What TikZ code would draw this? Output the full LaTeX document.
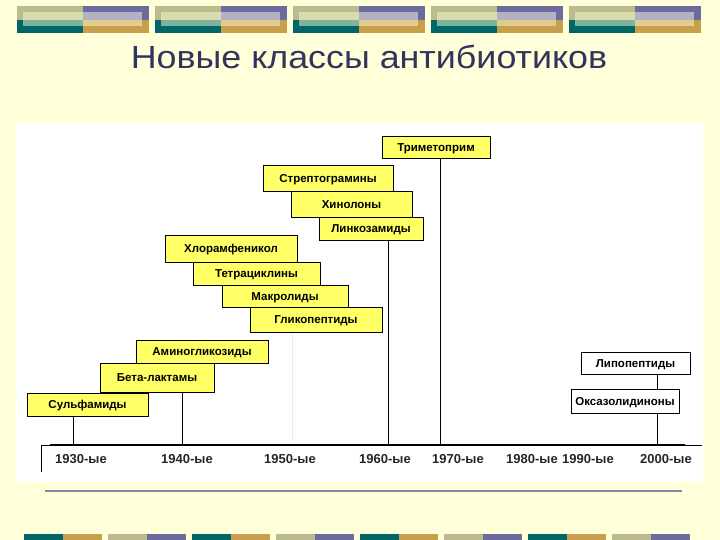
\documentclass[tikz,border=0pt]{standalone}
\usepackage{fontspec}
\setmainfont{Liberation Sans}
\usetikzlibrary{positioning}

\definecolor{slidebg}{HTML}{FFFFD9}
\definecolor{boxyellow}{HTML}{FFFF66}
\definecolor{titleblue}{HTML}{33335F}
\definecolor{bandkhaki}{HTML}{BBBB8D}
\definecolor{bandteal}{HTML}{006666}
\definecolor{bandpurple}{HTML}{6B6B9E}
\definecolor{bandgold}{HTML}{C8A04C}
\definecolor{lightkhaki}{HTML}{DADCB0}
\definecolor{lightteal}{HTML}{80B39E}
\definecolor{lightpurple}{HTML}{B2B2C4}
\definecolor{lightgold}{HTML}{E0CC8C}
\definecolor{rulegray}{HTML}{8585A8}

\begin{document}
\begin{tikzpicture}[x=1pt, y=-1pt,
    classbox/.style={draw=black, line width=0.6pt, fill=boxyellow, inner sep=0pt,
      text height=8.2pt, text depth=0pt,
      font=\fontsize{11.5}{12}\selectfont\bfseries},
    newbox/.style={classbox, fill=white},
    yearlabel/.style={font=\fontsize{13}{14}\selectfont\bfseries, text=black!85},
    tickline/.style={line width=0.6pt},
  ]
  \useasboundingbox (0,0) rectangle (720,540);
  \fill[slidebg] (0,0) rectangle (720,540);

  % top band: five two-tone blocks with a lighter inset
  \foreach \bx in {17,155,293,431,569} {
    \fill[bandkhaki]   (\bx,6)     rectangle ++(66,14);
    \fill[bandteal]    (\bx,20)    rectangle ++(66,13);
    \fill[bandpurple]  (\bx+66,6)  rectangle ++(66,14);
    \fill[bandgold]    (\bx+66,20) rectangle ++(66,13);
    \fill[lightkhaki]  (\bx+6,12)  rectangle (\bx+66,20);
    \fill[lightteal]   (\bx+6,20)  rectangle (\bx+66,26);
    \fill[lightpurple] (\bx+66,12) rectangle (\bx+125,20);
    \fill[lightgold]   (\bx+66,20) rectangle (\bx+125,26);
  }

  % bottom band: eight small blocks, alternating
  \foreach \bx in {24,192,360,528} {
    \fill[bandteal] (\bx,534) rectangle ++(39,6);
    \fill[bandgold] (\bx+39,534) rectangle ++(39,6);
  }
  \foreach \bx in {108,276,444,612} {
    \fill[bandkhaki]  (\bx,534) rectangle ++(39,6);
    \fill[bandpurple] (\bx+39,534) rectangle ++(39,6);
  }

  \node[font=\fontsize{32}{34}\selectfont, text=titleblue] (title) at (369,57)
    {\scalebox{1.12}[1]{Новые классы антибиотиков}};

  % chart panel
  \fill[white] (16,123) rectangle (703,482);
  \draw[black!8] (292,318) -- (292,440);

  % time axis and tick points
  \coordinate (t1930) at (73,445);
  \coordinate (t1940) at (182,445);
  \coordinate (t1960) at (388,445);
  \coordinate (t1970) at (440,445);
  \coordinate (t2000) at (657,445);
  \draw[line width=0.5pt] (41,472) -- (41,445) -- (702,445);
  \draw[line width=2.5pt] (50,445) -- (685,445);

  \foreach \yr/\xc in {1930/81, 1940/187, 1950/290, 1960/385,
                       1970/458, 1980/532, 1990/588, 2000/666}
    \node[yearlabel] (y\yr) at (\xc,459) {\yr-ые};

  % antibiotic classes (lower boxes first)
  \node[classbox, minimum width=121pt, minimum height=23pt] (sulf)  at (87.5,404.5) {Сульфамиды};
  \node[classbox, minimum width=114pt, minimum height=29pt] (beta)  at (157,377.5)  {Бета-лактамы};
  \node[classbox, minimum width=132pt, minimum height=23pt] (amino) at (202,351.5)  {Аминогликозиды};
  \node[classbox, minimum width=132pt, minimum height=25pt] (glyco) at (316,319.5)  {Гликопептиды};
  \node[classbox, minimum width=126pt, minimum height=22pt] (macro) at (285,296)    {Макролиды};
  \node[classbox, minimum width=127pt, minimum height=23pt] (tetra) at (256.5,273.5) {Тетрациклины};
  \node[classbox, minimum width=132pt, minimum height=27pt] (chlor) at (231,248.5)  {Хлорамфеникол};
  \node[classbox, minimum width=104pt, minimum height=23pt] (linc)  at (371,228.5)  {Линкозамиды};
  \node[classbox, minimum width=121pt, minimum height=26pt] (quin)  at (351.5,204)  {Хинолоны};
  \node[classbox, minimum width=130pt, minimum height=26pt] (strep) at (328,178)    {Стрептограмины};
  \node[classbox, minimum width=108pt, minimum height=22pt] (trim)  at (436,147)    {Триметоприм};
  \node[newbox,   minimum width=109pt, minimum height=22pt] (lipo)  at (635.5,363)  {Липопептиды};
  \node[newbox,   minimum width=108pt, minimum height=24pt] (oxa)   at (625,401)    {Оксазолидиноны};

  % drop lines to the axis
  \draw[tickline] (sulf.south -| t1930) -- (t1930);
  \draw[tickline] (beta.south -| t1940) -- (t1940);
  \draw[tickline] (linc.south -| t1960) -- (t1960);
  \draw[tickline] (trim.south -| t1970) -- (t1970);
  \draw[tickline] (lipo.south -| t2000) -- (oxa.north -| t2000);
  \draw[tickline] (oxa.south -| t2000) -- (t2000);

  \draw[rulegray, line width=1.5pt] (45,491) -- (682,491);
\end{tikzpicture}
\end{document}
